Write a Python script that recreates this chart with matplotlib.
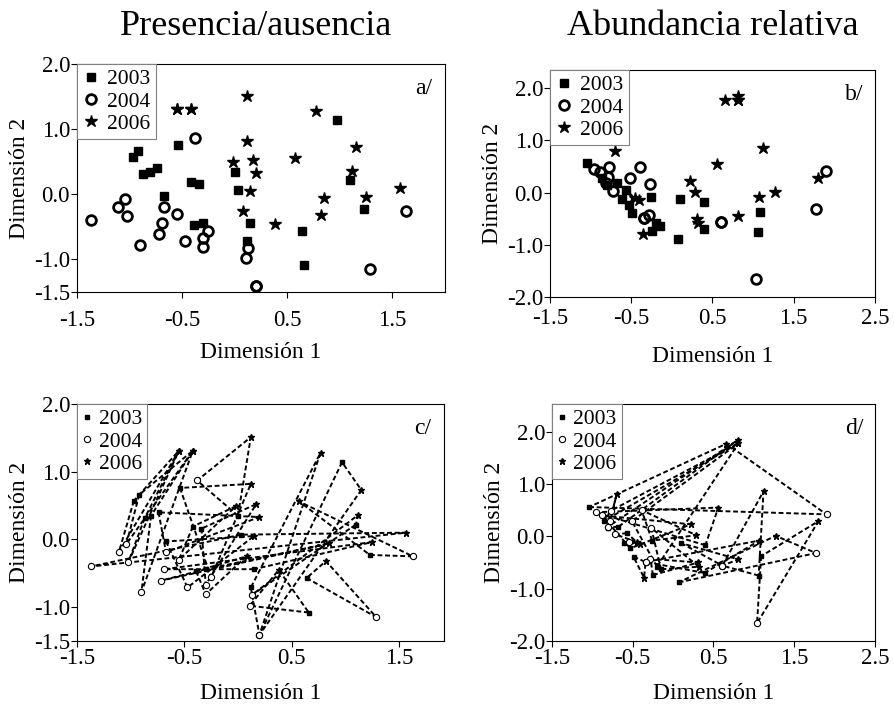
import numpy as np
import matplotlib
matplotlib.use('Agg')
import matplotlib.pyplot as plt
from matplotlib.ticker import FormatStrFormatter

plt.rcParams['font.family'] = ['Liberation Serif', 'DejaVu Serif']
plt.rcParams['axes.unicode_minus'] = False

years = ['2003', '2004', '2006']

# Presencia/ausencia (a/ and c/), one entry per site
pa03_x = [-0.97, -0.92, -0.87, -0.81, -0.74, -0.67, -0.54, -0.42, -0.34, -0.39,
          -0.30, 0.00, 0.03, 0.15, 0.12, 0.97, 1.10, 1.23, 0.64, 0.66]
pa03_y = [0.57, 0.66, 0.31, 0.35, 0.40, -0.03, 0.76, 0.19, 0.16, -0.47,
          -0.44, 0.35, 0.07, -0.44, -0.71, 1.14, 0.22, -0.23, -0.57, -1.08]
pa04_x = [-1.11, -1.04, -1.02, -0.90, -0.67, -0.47, -0.25, -0.55, -0.30, -0.30,
          -0.72, -0.38, -1.37, -0.69, 0.20, 0.20, 0.13, 1.63, 1.29, 0.11]
pa04_y = [-0.19, -0.07, -0.33, -0.78, -0.19, -0.71, -0.56, -0.30, -0.67, -0.81,
          -0.61, 0.87, -0.40, -0.44, -1.41, -1.41, -0.82, -0.25, -1.15, -0.98]
pa06_x = [-0.55, -0.42, -0.55, -0.42, 0.20, 0.15, 0.12, -0.02, 0.17, 0.08,
          0.85, 0.12, 1.57, 1.25, 0.77, 1.15, 1.12, 0.57, 0.82, 0.38]
pa06_y = [1.31, 1.31, 1.31, 1.31, 0.33, 0.05, 0.82, 0.49, 0.52, -0.25,
          -0.06, 1.51, 0.10, -0.04, 1.28, 0.73, 0.36, 0.56, -0.32, -0.45]

# Abundancia relativa (b/ and d/), one entry per site
ar03_x = [-1.04, -0.86, -0.80, -0.68, -0.57, -0.61, -0.53, -0.49, -0.26, -0.25,
          -0.15, -0.20, 0.07, 0.10, 0.40, 0.39, 1.09, 1.06]
ar03_y = [0.56, 0.29, 0.15, 0.18, 0.06, -0.13, -0.23, -0.39, -0.08, -0.74,
          -0.63, -0.58, -0.88, -0.13, -0.17, -0.70, -0.38, -0.75]
ar04_x = [1.90, -0.77, -0.78, -0.81, -0.72, -0.55, -0.88, -0.34, -0.39, -0.28,
          -0.27, -0.51, 1.77, 0.61, -0.96, -0.34, 1.04, 0.61]
ar04_y = [0.42, 0.49, 0.30, 0.18, 0.04, -0.11, 0.40, -0.49, 0.50, -0.43,
          0.16, 0.29, -0.32, -0.56, 0.46, -0.49, -1.66, -0.56]
ar06_x = [0.66, 0.81, -0.70, 0.81, -0.45, -0.41, 0.22, -0.36, 0.29, 0.31,
          0.32, 0.81, 1.27, 0.81, 0.56, 1.07, 1.80, 1.12]
ar06_y = [1.77, 1.78, 0.80, 1.85, -0.11, -0.14, 0.23, -0.79, 0.02, -0.50,
          -0.58, 1.78, 0.01, -0.44, 0.55, -0.08, 0.29, 0.86]

big = [dict(marker='s', ms=6, mfc='black', mec='black'),
       dict(marker='o', ms=7, mfc='none', mec='black', mew=2),
       dict(marker='*', ms=9, mfc='black', mec='black')]
small = [dict(marker='s', ms=3, mfc='black', mec='black'),
         dict(marker='o', ms=4.5, mfc='white', mec='black', mew=0.8),
         dict(marker='*', ms=5, mfc='black', mec='black')]


def setup(ax, xlim, ylim, yticks, tag, xpad):
    ax.set_xlim(*xlim)
    ax.set_ylim(*ylim)
    ax.set_xticks(np.arange(-1.5, xlim[1] + 0.01, 1.0))
    ax.set_yticks(yticks)
    ax.xaxis.set_major_formatter(FormatStrFormatter('%.1f'))
    ax.yaxis.set_major_formatter(FormatStrFormatter('%.1f'))
    ax.tick_params(labelsize=16.5, length=4, width=0.8, direction='out', pad=1)
    ax.tick_params(axis='x', pad=xpad)
    for s in ax.spines.values():
        s.set_linewidth(0.8)
    ax.set_xlabel('Dimensión 1', fontsize=17, labelpad=10)
    ax.set_ylabel('Dimensión 2', fontsize=17, labelpad=3)
    ax.text(0.965, 0.94, tag, transform=ax.transAxes, ha='right', va='top', fontsize=17)


def legend(ax, hl):
    leg = ax.legend(loc='upper left', borderaxespad=0, fancybox=False, fontsize=15.5,
                    handlelength=hl, handletextpad=0.35, labelspacing=0.1,
                    borderpad=0.25, framealpha=1)
    leg.get_frame().set_edgecolor('#808080')
    leg.get_frame().set_linewidth(0.8)


def top_panel(ax, xs, ys):
    for x, y, st, lab in zip(xs, ys, big, years):
        ax.plot(x, y, ls='none', label=lab, **st)
    legend(ax, 0.8)


def bottom_panel(ax, xs, ys):
    # each site: 2003 -> 2004 -> 2006 -> 2003
    for i in range(len(xs[0])):
        tx = [xs[0][i], xs[1][i], xs[2][i], xs[0][i]]
        ty = [ys[0][i], ys[1][i], ys[2][i], ys[0][i]]
        ax.plot(tx, ty, ls=(0, (2.5, 1.4)), lw=1.4, color='black', zorder=1)
    for x, y, st, lab in zip(xs, ys, small, years):
        ax.plot(x, y, ls='none', label=lab, zorder=2, **st)
    legend(ax, 0.4)


fig = plt.figure(figsize=(8.94, 7.06), dpi=100)
ax_a = fig.add_axes([0.0861, 0.5864, 0.4116, 0.3229])
ax_b = fig.add_axes([0.6152, 0.5793, 0.3635, 0.3215])
ax_c = fig.add_axes([0.0861, 0.0921, 0.4105, 0.3357])
ax_d = fig.add_axes([0.6174, 0.0921, 0.3613, 0.3357])

pa_x = [pa03_x, pa04_x, pa06_x]
pa_y = [pa03_y, pa04_y, pa06_y]
ar_x = [ar03_x, ar04_x, ar06_x]
ar_y = [ar03_y, ar04_y, ar06_y]

top_panel(ax_a, pa_x, pa_y)
top_panel(ax_b, ar_x, ar_y)
bottom_panel(ax_c, pa_x, pa_y)
bottom_panel(ax_d, ar_x, ar_y)

setup(ax_a, (-1.5, 2.0), (-1.5, 2.0), [-1.5, -1.0, 0.0, 1.0, 2.0], 'a/', 9)
setup(ax_b, (-1.5, 2.5), (-2.0, 2.35), [-2.0, -1.0, 0.0, 1.0, 2.0], 'b/', 4)
setup(ax_c, (-1.5, 1.92), (-1.5, 2.0), [-1.5, -1.0, 0.0, 1.0, 2.0], 'c/', 1)
setup(ax_d, (-1.5, 2.5), (-2.0, 2.53), [-2.0, -1.0, 0.0, 1.0, 2.0], 'd/', 1)
ax_a.xaxis.labelpad = 8
ax_b.xaxis.labelpad = 12

fig.text(0.287, 0.962, 'Presencia/ausencia', ha='center', va='center', fontsize=26)
fig.text(0.797, 0.962, 'Abundancia relativa', ha='center', va='center', fontsize=26)

fig.savefig('out.png', dpi=100)
